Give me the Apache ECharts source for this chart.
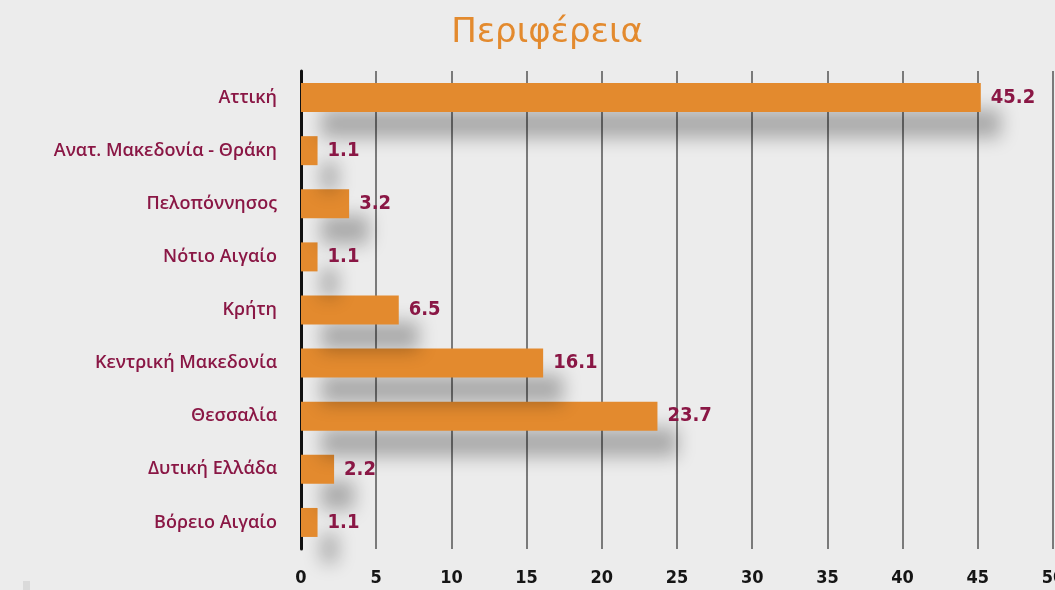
<!DOCTYPE html>
<html>
<head>
<meta charset="utf-8">
<script src="https://cdn.jsdelivr.net/npm/echarts@6/dist/echarts.min.js"></script>
<style>
  html, body { margin: 0; padding: 0; background: #ececec; }
  #chart { width: 1055px; height: 590px; }
</style>
</head>
<body>
<div id="chart"></div>
<script>
// categories listed bottom to top (ECharts category y axis starts at the bottom)
var regions = ['Βόρειο Αιγαίο', 'Δυτική Ελλάδα', 'Θεσσαλία', 'Κεντρική Μακεδονία', 'Κρήτη',
               'Νότιο Αιγαίο', 'Πελοπόννησος', 'Ανατ. Μακεδονία - Θράκη', 'Αττική'];
var shares = [1.1, 2.2, 23.7, 16.1, 6.5, 1.1, 3.2, 1.1, 45.2];
var xTicks = [0, 5, 10, 15, 20, 25, 30, 35, 40, 45, 50];

var myChart = echarts.init(document.getElementById('chart'), null, {renderer: 'canvas'});
var option = {
    backgroundColor: '#ececec',
    animation: false,
    title: {
        text: 'Περιφέρεια',
        left: 542,
        textAlign: 'center',
        top: 11,
        textStyle: {
            color: '#e38a2e',
            fontSize: 34,
            fontWeight: 'normal',
            fontFamily: 'DejaVu Sans'
        }
    },
    // small grey mark in the lower left corner of the original
    graphic: [{
        type: 'rect',
        left: 23, top: 581,
        shape: {width: 7, height: 9},
        style: {fill: '#dadada'}
    }],
    grid: {left: 301, right: 2, top: 71, bottom: 41, outerBoundsMode: 'none'},
    xAxis: {
        type: 'value',
        min: xTicks[0],
        max: xTicks[xTicks.length - 1],
        interval: 5,
        axisLine: {show: false},
        axisTick: {show: false},
        axisLabel: {
            color: '#151515',
            fontSize: 18,
            fontWeight: 'bold',
            fontFamily: 'DejaVu Sans Condensed',
            margin: 20
        },
        splitLine: {lineStyle: {color: '#7a7a7a', width: 2}}
    },
    yAxis: {
        type: 'category',
        data: regions,
        axisLine: {show: true, lineStyle: {color: '#111', width: 3}},
        axisTick: {show: false},
        axisLabel: {
            color: '#8a1745',
            fontSize: 18,
            fontWeight: 600,
            fontFamily: 'Open Sans',
            margin: 24
        }
    },
    series: [{
        type: 'bar',
        data: shares,
        barWidth: 29,
        itemStyle: {
            color: '#e38a2e',
            shadowColor: 'rgba(0,0,0,0.28)',
            shadowBlur: 18,
            shadowOffsetX: 20,
            shadowOffsetY: 26
        },
        label: {
            show: true,
            position: 'right',
            distance: 10,
            color: '#8a1745',
            fontSize: 20,
            fontWeight: 'bold',
            fontFamily: 'DejaVu Sans Condensed'
        }
    }]
};
myChart.setOption(option);
</script>
</body>
</html>
